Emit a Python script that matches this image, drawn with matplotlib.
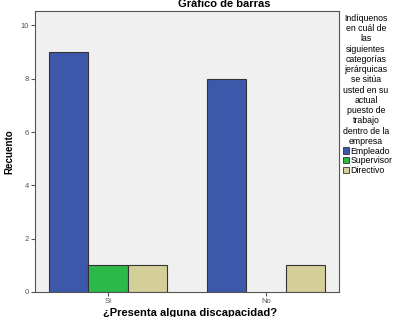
import matplotlib
matplotlib.use('Agg')
import matplotlib.pyplot as plt
import numpy as np

plt.rcParams['font.family'] = ['Liberation Sans', 'DejaVu Sans']

# ======================================================================

groups = ['Sí', 'No']
series = ['Empleado', 'Supervisor', 'Directivo']
counts = {
    'Empleado': [9, 8],
    'Supervisor': [1, 0],
    'Directivo': [1, 1],
}
colors = ['#3D57AB', '#2DB84A', '#D4CF98']
yticks = [0, 2, 4, 6, 8, 10]
legend_title = ('Indíquenos\nen cuál de\nlas\nsiguientes\ncategorías\njerárquicas\n'
                'se sitúa\nusted en su\nactual\npuesto de\ntrabajo\ndentro de la\nempresa')

# ======================================================================

fig = plt.figure(figsize=(3.94, 3.17), dpi=100)
ax = fig.add_axes([35 / 394, 1 - 292 / 317, 304 / 394, 281 / 317])
ax.set_facecolor('#F0F0F0')

x = np.arange(len(groups))
w = 0.247
handles = []
for i, (name, col) in enumerate(zip(series, colors)):
    vals = np.array(counts[name], dtype=float)
    keep = vals > 0
    ax.bar(x[keep] + (i - 1) * w, vals[keep], width=w, color=col,
           edgecolor='#333333', linewidth=0.8, zorder=2)
    handles.append(plt.Rectangle((0, 0), 1, 1, facecolor=col,
                                 edgecolor='#333333', linewidth=0.6))

ax.set_xlim(-0.462, 1.462)
ax.set_ylim(0, 10.54)
ax.set_xticks(x)
ax.set_xticklabels(groups)
ax.set_yticks(yticks)
ax.tick_params(axis='both', labelsize=5.5, labelcolor='#555555', length=3,
               width=0.8, color='#555555', pad=1.5)
for s in ax.spines.values():
    s.set_color('#555555')
    s.set_linewidth(0.8)

ax.set_ylabel('Recuento', fontsize=7, fontweight='bold')
ax.yaxis.set_label_coords(-21 / 304, 0.5)
fig.text(224 / 394, 1 - 7 / 317, 'Gráfico de barras', fontsize=8,
         fontweight='bold', ha='center', va='baseline')
fig.text(190 / 394, 1 - 316 / 317, '¿Presenta alguna discapacidad?',
         fontsize=8, fontweight='bold', ha='center', va='baseline')

leg = fig.legend(handles, series, loc='upper left',
                 bbox_to_anchor=(341 / 394, 1 - 12 / 317),
                 frameon=False, fontsize=6.3, title=legend_title,
                 title_fontsize=6.3, alignment='left', handlelength=0.75,
                 handleheight=0.75, handletextpad=0.15, labelspacing=0.08,
                 borderaxespad=0, borderpad=0.2)
leg.get_title().set_multialignment('center')
leg.get_title().set_linespacing(1.18)

fig.savefig('out.png', dpi=100)
